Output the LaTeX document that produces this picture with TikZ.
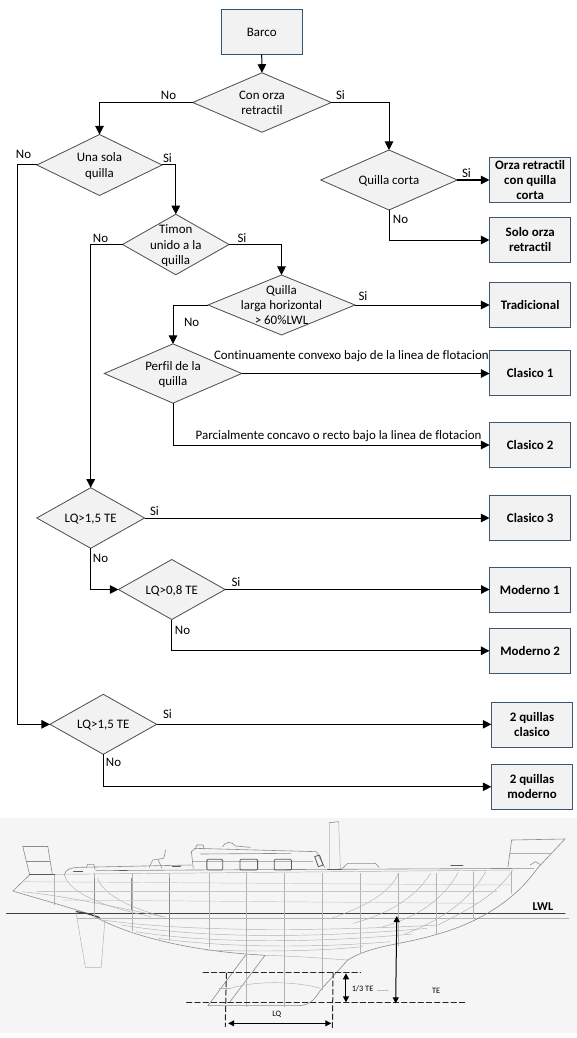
\documentclass[tikz,border=0pt]{standalone}
\usepackage{fontspec}
\setmainfont{Carlito}[Ligatures=NoCommon]
\usetikzlibrary{shapes.geometric,arrows.meta}
\definecolor{boxline}{HTML}{3F5670}
\definecolor{startline}{HTML}{2F5578}
\newcommand\dtext[1]{\smash{\makebox[0pt]{\raisebox{-.37em}{\begin{tabular}{@{}c@{}}#1\end{tabular}}}}}
\tikzset{
  x=0.75pt,y=-0.75pt,
  every node/.style={font=\fontsize{9.7pt}{11.5pt}\selectfont,inner sep=0pt,outer sep=0pt},
  dia/.style 2 args={diamond,draw=black!70,fill=black!5,line width=.6pt,minimum width=#1*.75pt,minimum height=#2*.75pt},
  res/.style 2 args={rectangle,draw=boxline,fill=black!5,line width=.75pt,minimum width=#1*.75pt,minimum height=#2*.75pt,align=center,font=\fontsize{9.7pt}{11.25pt}\selectfont\bfseries},
  start/.style={rectangle,draw=startline,fill=black!5,line width=.75pt,minimum width=61pt,minimum height=33.75pt},
  conn/.style={draw=black,line width=.75pt,-{Triangle[width=6.4pt,length=6.4pt]}},
  lbl/.style={anchor=center},
  hullthin/.style={draw=black!30,line width=.35pt},
  hullmid/.style={draw=black!45,line width=.45pt},
  hulldark/.style={draw=black!65,line width=.6pt},
  dim/.style={draw=black!85,line width=.75pt,dashed,dash pattern=on 4pt off 2.2pt},
  dimarrow/.style={draw=black,line width=.75pt,{Triangle[width=4.5pt,length=4.5pt]}-{Triangle[width=4.5pt,length=4.5pt]}}
}
\begin{document}
\begin{tikzpicture}
\useasboundingbox (0,0) rectangle (577,1038);
\fill[white] (0,0) rectangle (577,1038);

% flow nodes
\node[start] (barco) at (261.7,32) {Barco};
\node[dia={138.5}{59.5}] (orza) at (262,102.5) {\dtext{Con orza\\retractil}};
\node[dia={125}{61}] (una) at (99.5,165) {\dtext{Una sola\\quilla}};
\node[dia={136.5}{60}] (corta) at (389,180) {\dtext{Quilla corta}};
\node[res={81.5}{44.5}] (r1) at (530.2,180.2) {Orza retractil\\con quilla\\corta};
\node[res={81.5}{45}] (r2) at (530.2,240) {Solo orza\\retractil};
\node[dia={106.5}{60.5}] (timon) at (175.8,244.5) {\dtext{Timon\\unido a la\\quilla}};
\node[dia={147}{60}] (larga) at (281.5,305) {\dtext{Quilla\\larga horizontal\\> 60\%LWL}};
\node[res={81.2}{44.6}] (r3) at (530.1,305) {Tradicional};
\node[dia={137.4}{59.3}] (perfil) at (173,373.5) {\dtext{Perfil de la\\quilla}};
\node[res={81.2}{45}] (r4) at (530.1,372.8) {Clasico 1};
\node[res={81.2}{44.6}] (r5) at (530.1,445) {Clasico 2};
\node[dia={107.8}{60.6}] (d1) at (90.7,518) {\dtext{LQ>1,5 TE}};
\node[res={81.5}{45}] (r6) at (530.2,517.8) {Clasico 3};
\node[dia={106.7}{60}] (d2) at (171.8,589.5) {\dtext{LQ>0,8 TE}};
\node[res={80.5}{45}] (r7) at (529.8,589.8) {Moderno 1};
\node[res={81.5}{45}] (r8) at (530.2,650.8) {Moderno 2};
\node[dia={106.7}{60}] (d3) at (103.3,724.3) {\dtext{LQ>1,5 TE}};
\node[res={81.4}{45}] (r9) at (532,724.8) {2 quillas\\clasico};
\node[res={81.4}{45}] (r10) at (532,786.8) {2 quillas\\moderno};
\coordinate (farleft) at (17.5,440);

% connectors
\draw[conn] (barco.south) -- (orza.north);
\draw[conn] (orza.west) -| (una.north);
\draw[conn] (orza.east) -| (corta.north);
\draw[conn] (corta.east) -- (corta.east -| r1.west);
\draw[conn] (corta.south) |- (r2.west);
\draw[conn] (una.east) -| (timon.north);
\draw[conn] (una.west) -| (farleft) |- (d3.west);
\draw[conn] (timon.east) -| (larga.north);
\draw[conn] (timon.west) -| (d1.north);
\draw[conn] (larga.east) -- (larga.east -| r3.west);
\draw[conn] (larga.west) -| (perfil.north);
\draw[conn] (perfil.east) -- (perfil.east -| r4.west);
\draw[conn] (perfil.south) |- (r5.west);
\draw[conn] (d1.east) -- (d1.east -| r6.west);
\draw[conn] (d1.south) |- (d2.west);
\draw[conn] (d2.east) -- (d2.east -| r7.west);
\draw[conn] (d2.south) |- (r8.west);
\draw[conn] (d3.east) -- (d3.east -| r9.west);
\draw[conn] (d3.south) |- (r10.west);

% branch labels
\node[lbl] (l1) at (168.5,95) {No};
\node[lbl] (l2) at (340.5,95) {Si};
\node[lbl] (l3) at (23.5,154.5) {No};
\node[lbl] (l4) at (167.5,158) {Si};
\node[lbl] (l5) at (466.5,173.5) {Si};
\node[lbl] (l6) at (400.5,219) {No};
\node[lbl] (l7) at (100.5,238) {No};
\node[lbl] (l8) at (242,238) {Si};
\node[lbl] (l9) at (363,296) {Si};
\node[lbl] (l10) at (191.7,322) {No};
\node[lbl,anchor=west] (l11) at (214,356) {Continuamente convexo bajo de la linea de flotacion};
\node[lbl,anchor=west] (l12) at (195.7,436) {Parcialmente concavo o recto bajo la linea de flotacion};
\node[lbl] (l13) at (154.5,511) {Si};
\node[lbl] (l14) at (100.5,558) {No};
\node[lbl] (l15) at (236,582) {Si};
\node[lbl] (l16) at (182.5,630) {No};
\node[lbl] (l17) at (167.5,714) {Si};
\node[lbl] (l18) at (113.5,762) {No};

% hull picture, in its own grid
\fill[black!4] (0,818) rectangle (577,1033);
\begin{scope}[shift={(0,810)},x=0.27604pt,y=-0.25pt,line cap=round,line join=round]
  % LWL
  \draw[black!75,line width=1.1pt] (18,311) -- (1535,311);
  \draw[hullthin,line width=.6pt] (210,325) -- (1545,325);
  % hull outline
  \draw[hullmid] (35,243) -- (80,195);
  \draw[hullmid] (35,243) .. controls (90,262) and (170,285) .. (250,315) .. controls (350,380) and (520,420) .. (670,432);
  \draw[hullmid] (1460,175) .. controls (1400,270) and (1300,340) .. (1180,375) .. controls (1090,405) and (1010,405) .. (945,450);
  \draw[hullmid] (670,432) -- (720,436) -- (625,575);
  \draw[hullmid] (668,434) -- (565,587) -- (810,587) .. controls (850,587) and (860,555) .. (875,535) -- (945,450);
  \draw[hullthin] (720,436) .. controls (800,438) and (880,445) .. (945,450);
  \draw[hullthin] (625,535) .. controls (700,510) and (810,515) .. (870,535);
  \draw[hullthin] (595,535) -- (625,535);
  % rudder
  \draw[hullthin] (207,310) -- (232,472) -- (275,472) -- (285,330);
  \draw[black!75,line width=.9pt] (207,305) -- (235,310) -- (270,322);
  % deck
  \draw[hulldark] (80,193) -- (150,193);
  \draw[hullthin] (150,193) -- (1395,180);
  \draw[hullmid] (260,182) -- (520,180) -- (1450,175);
  \draw[hullmid] (175,195) .. controls (178,178) and (190,173) .. (215,172) -- (520,165);
  \draw[hullthin] (175,195) .. controls (190,250) and (280,290) .. (410,320);
  \draw[hullthin] (265,205) .. controls (280,250) and (340,290) .. (450,322);
  % stations
  \foreach \xa/\ya/\yb in {148/195/285,255/190/322,358/190/362,461/190/392,568/190/412,670/190/590,772/190/590,875/190/540,978/190/432,1082/190/408,1185/190/372,1287/185/325,1390/185/250}{
    \draw[hullthin] (\xa,\ya) -- (\xa,\yb);
  }
  \foreach \xa/\yb in {255/280,358/300,461/380}{\draw[hullmid] (\xa,205) -- (\xa,\yb);}
  % bow sections
  \draw[hullthin] (1082,190) .. controls (1060,250) and (990,290) .. (900,325);
  \draw[hullthin] (1170,190) .. controls (1130,260) and (1060,310) .. (960,340);
  \draw[hullthin] (1245,187) .. controls (1210,260) and (1140,320) .. (1040,350);
  \draw[hullthin] (1320,185) .. controls (1280,260) and (1220,320) .. (1100,372);
  \draw[hullthin] (1392,182) .. controls (1350,250) and (1290,290) .. (1190,345);
  % horizontal buttocks
  \draw[hullthin,black!22] (60,215) -- (1395,225);
  \draw[hullthin,black!22] (100,245) -- (1350,245);
  \draw[hullthin,black!22] (170,270) -- (1300,280);
  \draw[hullthin] (60,245) .. controls (150,255) and (250,275) .. (440,320);
  % waterlines
  \draw[hullthin] (280,330) .. controls (500,365) and (850,365) .. (1190,345);
  \draw[hullthin] (330,345) .. controls (550,385) and (850,385) .. (1160,355);
  \draw[hullthin] (370,365) .. controls (560,400) and (850,400) .. (1120,372);
  \draw[hullthin] (430,385) .. controls (600,412) and (850,415) .. (1060,395);
  \draw[hullthin] (560,420) .. controls (700,425) and (850,425) .. (985,410);
  % cabin
  \draw[hullmid] (525,175) -- (520,125) -- (530,115) -- (860,125) -- (882,172);
  \draw[hullthin] (525,155) -- (850,155);
  \draw[hullmid] (545,132) -- (790,130);
  \draw[hullmid] (605,110) .. controls (610,95) and (630,92) .. (640,108) -- (680,112);
  \draw[hullmid] (530,118) -- (535,105) -- (552,105) -- (555,118);
  \draw[hulldark,rounded corners=.8pt] (562,148) rectangle (605,180);
  \draw[hulldark,rounded corners=.8pt] (652,148) rectangle (700,180);
  \draw[hulldark,rounded corners=.8pt] (745,148) rectangle (792,180);
  \draw[hulldark] (855,140) -- (868,135) -- (878,165) -- (865,170) -- cycle;
  % mast
  \draw[hullmid] (895,38) -- (920,35);
  \draw[hullthin] (895,38) -- (895,178) (920,35) -- (925,178);
  \draw[hulldark] (890,178) -- (928,178);
  % coachroof aft/foredeck fittings
  \draw[hullmid] (235,172) -- (238,163) -- (255,163) -- (258,178);
  \draw[hullmid] (405,172) -- (415,150) -- (445,145) -- (450,120);
  \draw[hullmid] (430,150) -- (440,175);
  \draw[hullmid] (930,175) -- (945,160) -- (1020,160) -- (1030,172);
  \draw[hulldark] (200,183) -- (225,183) (325,180) -- (345,180) (468,170) -- (490,170) (1225,165) -- (1258,165);
  % stern pulpit
  \draw[hullmid] (62,110) -- (130,110) (72,155) -- (135,155);
  \draw[hullmid] (62,110) -- (80,192) (130,110) -- (142,192);
  % bow pulpit
  \draw[hullmid] (1390,90) -- (1535,87) (1385,130) -- (1495,130);
  \draw[hullmid] (1390,90) -- (1380,172) (1535,87) -- (1460,175);
  \draw[hullmid] (1440,165) -- (1455,155) -- (1470,165);
  % measures
  \draw[dim] (552,488) -- (980,488);
  \draw[dim] (507,577) -- (1265,577);
  \draw[dim] (615,490) -- (612,650);
  \draw[dim] (905,488) -- (903,660);
  \draw[dimarrow] (620,640) -- (900,640);
  \draw[dimarrow] (940,490) -- (940,577);
  \draw[dimarrow] (1078,318) -- (1075,580);
  \draw[black!25] (1025,540) -- (1055,540);
  \node[font=\fontsize{6.2pt}{7pt}\selectfont] (lq) at (752,612) {LQ};
  \node[font=\fontsize{6.2pt}{7pt}\selectfont] (te3) at (985,535) {1/3 TE};
  \node[font=\fontsize{6.2pt}{7pt}\selectfont] (te) at (1185,543) {TE};
  \node[font=\fontsize{9pt}{10pt}\selectfont\bfseries] (lwl) at (1475,290) {LWL};
\end{scope}
\end{tikzpicture}
\end{document}
